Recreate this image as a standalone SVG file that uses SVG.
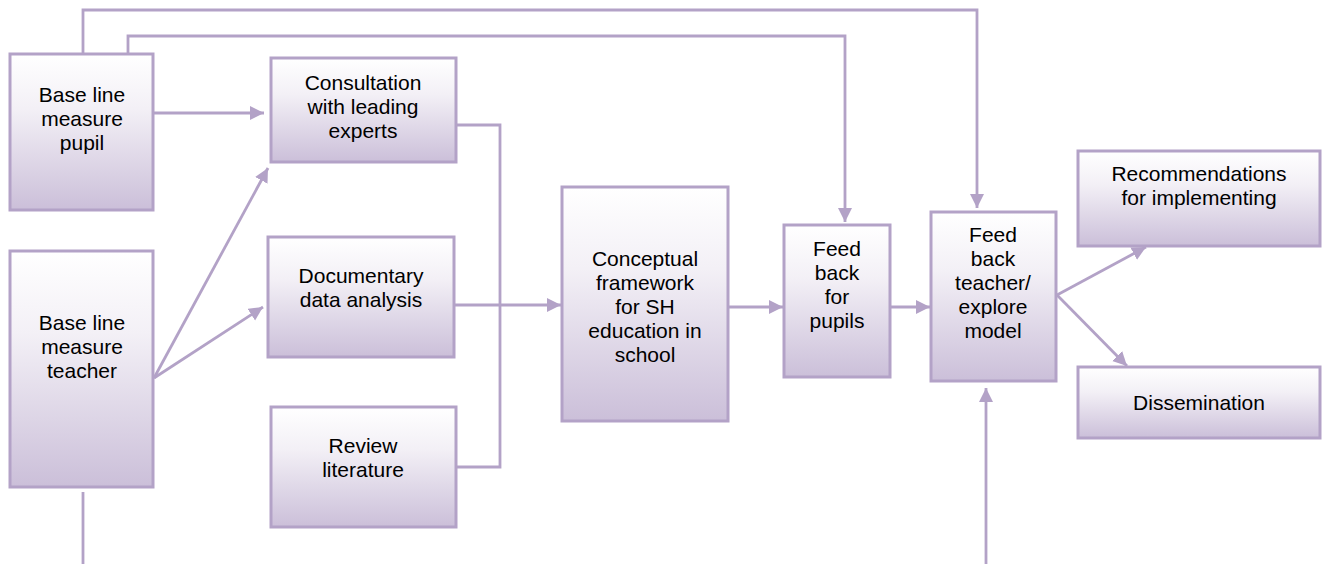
<svg xmlns="http://www.w3.org/2000/svg" width="1325" height="564" viewBox="0 0 1325 564">
  <defs>
    <linearGradient id="boxFill" x1="0" y1="0" x2="0" y2="1">
      <stop offset="0" stop-color="#ffffff"/>
      <stop offset="0.35" stop-color="#f3f0f6"/>
      <stop offset="1" stop-color="#cbbfd9"/>
    </linearGradient>
    <marker id="arrow" markerUnits="userSpaceOnUse" markerWidth="16" markerHeight="16" refX="14" refY="7" orient="auto">
      <path d="M0,0 L14,7 L0,14 Z" fill="#b3a2c7"/>
    </marker>
  </defs>
  <style>
    .box { fill: url(#boxFill); stroke: #b3a2c7; stroke-width: 3; }
    .lbl { font-family: "Liberation Sans", Arial, sans-serif; font-size: 21px; fill: #000000; text-anchor: middle; }
    .con { fill: none; stroke: #b3a2c7; stroke-width: 2.8; }
  </style>
  <rect width="1325" height="564" fill="#ffffff"/>

  <g id="connectors">
    <!-- long return paths from the pupil baseline -->
    <path class="con" d="M83,54 V10 H977 V208" marker-end="url(#arrow)"/>
    <path class="con" d="M128,54 V36 H845 V222" marker-end="url(#arrow)"/>
    <!-- pupil baseline to consultation -->
    <path class="con" d="M154,113 H264" marker-end="url(#arrow)"/>
    <!-- teacher baseline fan-out -->
    <path class="con" d="M154,378 L268,168" marker-end="url(#arrow)"/>
    <path class="con" d="M154,378 L263,307" marker-end="url(#arrow)"/>
    <!-- teacher baseline downward -->
    <path class="con" d="M83,492 V564"/>
    <!-- merge of consultation / documentary / review into framework -->
    <path class="con" d="M456,125 H500 V467 H456"/>
    <path class="con" d="M454,305 H561" marker-end="url(#arrow)"/>
    <!-- main flow -->
    <path class="con" d="M728,307 H783" marker-end="url(#arrow)"/>
    <path class="con" d="M890,307 H930" marker-end="url(#arrow)"/>
    <path class="con" d="M986,564 V388" marker-end="url(#arrow)"/>
    <path class="con" d="M1057,295 L1146,247" marker-end="url(#arrow)"/>
    <path class="con" d="M1057,295 L1127,366" marker-end="url(#arrow)"/>
  </g>

  <g id="pupil">
    <rect class="box" x="10" y="54" width="143" height="156"/>
    <text class="lbl" x="82" y="102">Base line</text>
    <text class="lbl" x="82" y="126">measure</text>
    <text class="lbl" x="82" y="150">pupil</text>
  </g>

  <g id="teacher">
    <rect class="box" x="10" y="251" width="143" height="236"/>
    <text class="lbl" x="82" y="330">Base line</text>
    <text class="lbl" x="82" y="354">measure</text>
    <text class="lbl" x="82" y="378">teacher</text>
  </g>

  <g id="consultation">
    <rect class="box" x="271" y="58" width="185" height="104"/>
    <text class="lbl" x="363" y="90">Consultation</text>
    <text class="lbl" x="363" y="114">with leading</text>
    <text class="lbl" x="363" y="138">experts</text>
  </g>

  <g id="documentary">
    <rect class="box" x="268" y="237" width="186" height="120"/>
    <text class="lbl" x="361" y="283">Documentary</text>
    <text class="lbl" x="361" y="307">data analysis</text>
  </g>

  <g id="review">
    <rect class="box" x="271" y="407" width="185" height="120"/>
    <text class="lbl" x="363" y="453">Review</text>
    <text class="lbl" x="363" y="477">literature</text>
  </g>

  <g id="framework">
    <rect class="box" x="562" y="187" width="166" height="234"/>
    <text class="lbl" x="645" y="266">Conceptual</text>
    <text class="lbl" x="645" y="290">framework</text>
    <text class="lbl" x="645" y="314">for SH</text>
    <text class="lbl" x="645" y="338">education in</text>
    <text class="lbl" x="645" y="362">school</text>
  </g>

  <g id="feedback-pupils">
    <rect class="box" x="784" y="225" width="106" height="152"/>
    <text class="lbl" x="837" y="256">Feed</text>
    <text class="lbl" x="837" y="280">back</text>
    <text class="lbl" x="837" y="304">for</text>
    <text class="lbl" x="837" y="328">pupils</text>
  </g>

  <g id="feedback-teacher">
    <rect class="box" x="931" y="212" width="125" height="169"/>
    <text class="lbl" x="993" y="242">Feed</text>
    <text class="lbl" x="993" y="266">back</text>
    <text class="lbl" x="993" y="290">teacher/</text>
    <text class="lbl" x="993" y="314">explore</text>
    <text class="lbl" x="993" y="338">model</text>
  </g>

  <g id="recommendations">
    <rect class="box" x="1078" y="151" width="242" height="95"/>
    <text class="lbl" x="1199" y="181">Recommendations</text>
    <text class="lbl" x="1199" y="205">for implementing</text>
  </g>

  <g id="dissemination">
    <rect class="box" x="1078" y="367" width="242" height="71"/>
    <text class="lbl" x="1199" y="410">Dissemination</text>
  </g>
</svg>
